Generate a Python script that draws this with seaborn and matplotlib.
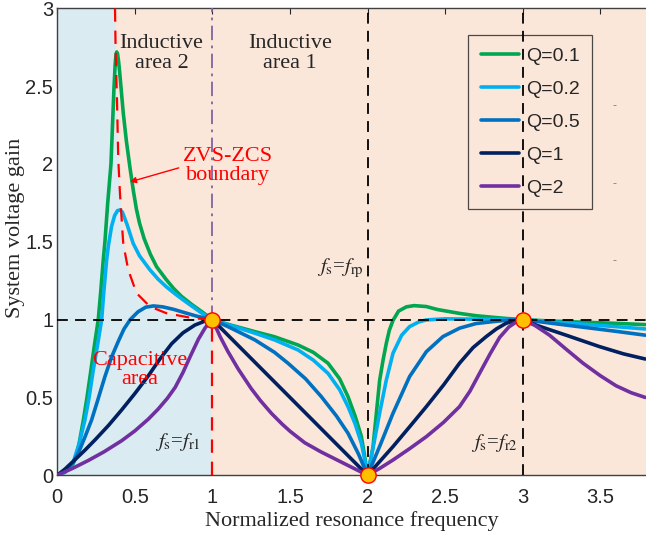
import numpy as np
import pandas as pd
import matplotlib
matplotlib.use("Agg")
import matplotlib.pyplot as plt
import seaborn as sns

# ---------------- data ----------------
q_labels = ["Q=0.1", "Q=0.2", "Q=0.5", "Q=1", "Q=2"]
q_colors = ["#00A650", "#00B0F0", "#0070C0", "#002060", "#7030A0"]

q01_x = [0, 0.05, 0.1, 0.114, 0.14, 0.168, 0.19, 0.217, 0.24, 0.264, 0.28, 0.296, 0.307, 0.325, 0.346,
         0.356, 0.365, 0.373, 0.378, 0.383, 0.388, 0.395, 0.402, 0.41, 0.425, 0.445, 0.468, 0.49, 0.51,
         0.53, 0.56, 0.6, 0.64, 0.7, 0.75, 0.8, 0.87, 0.94, 1.0,
         1.1, 1.273, 1.4, 1.552, 1.65, 1.745, 1.82, 1.874, 1.92, 1.96, 1.98, 2.0,
         2.018, 2.035, 2.057, 2.078, 2.1, 2.121, 2.14, 2.164, 2.2, 2.25, 2.3, 2.379, 2.45, 2.593, 2.7,
         2.807, 2.9, 3.0, 3.2, 3.4, 3.6, 3.79]
q01_y = [0, 0.02, 0.07, 0.1, 0.2, 0.355, 0.49, 0.677, 0.84, 1.0, 1.18, 1.38, 1.5, 1.75, 2.0,
         2.25, 2.48, 2.64, 2.70, 2.72, 2.71, 2.66, 2.59, 2.5, 2.33, 2.15, 1.98, 1.83, 1.71,
         1.62, 1.52, 1.42, 1.34, 1.26, 1.2, 1.15, 1.095, 1.045, 1.0,
         0.97, 0.923, 0.89, 0.837, 0.79, 0.72, 0.62, 0.505, 0.38, 0.25, 0.13, 0.0,
         0.09, 0.18, 0.4, 0.61, 0.74, 0.848, 0.93, 0.995, 1.055, 1.082, 1.09, 1.084, 1.065, 1.04, 1.025,
         1.015, 1.007, 1.0, 0.99, 0.983, 0.976, 0.968]

q02_x = [0, 0.05, 0.1, 0.14, 0.178, 0.205, 0.232, 0.26, 0.286, 0.30, 0.318, 0.33, 0.35, 0.37, 0.388,
         0.405, 0.42, 0.45, 0.489, 0.53, 0.597, 0.65, 0.704, 0.76, 0.811, 0.87, 0.919, 1.0,
         1.1, 1.273, 1.4, 1.552, 1.65, 1.745, 1.82, 1.874, 1.92, 1.96, 1.98, 2.0,
         2.02, 2.04, 2.078, 2.121, 2.164, 2.22, 2.271, 2.33, 2.379, 2.5, 2.7, 3.0,
         3.2, 3.4, 3.6, 3.79]
q02_y = [0, 0.02, 0.075, 0.2, 0.355, 0.5, 0.677, 0.84, 1.0, 1.18, 1.384, 1.48, 1.6, 1.67, 1.70,
         1.705, 1.69, 1.61, 1.49, 1.41, 1.32, 1.26, 1.21, 1.165, 1.127, 1.085, 1.05, 1.0,
         0.968, 0.913, 0.87, 0.805, 0.74, 0.655, 0.55, 0.441, 0.33, 0.206, 0.11, 0.0,
         0.1, 0.2, 0.4, 0.612, 0.784, 0.9, 0.955, 0.985, 0.998, 1.005, 1.003, 1.0,
         0.985, 0.97, 0.955, 0.94]

q05_x = [0, 0.05, 0.1, 0.135, 0.18, 0.221, 0.26, 0.307, 0.35, 0.393, 0.43, 0.47, 0.52, 0.57, 0.62,
         0.68, 0.75, 0.82, 0.9, 1.0,
         1.1, 1.273, 1.4, 1.487, 1.6, 1.702, 1.8, 1.874, 1.94, 2.0,
         2.08, 2.164, 2.271, 2.379, 2.486, 2.593, 2.7, 2.807, 2.9, 3.0,
         3.2, 3.4, 3.6, 3.79]
q05_y = [0, 0.03, 0.08, 0.141, 0.25, 0.355, 0.48, 0.634, 0.76, 0.86, 0.94, 1.0, 1.05, 1.08, 1.088,
         1.082, 1.066, 1.045, 1.022, 1.0,
         0.955, 0.87, 0.79, 0.72, 0.62, 0.505, 0.38, 0.27, 0.14, 0.0,
         0.19, 0.398, 0.634, 0.794, 0.891, 0.945, 0.975, 0.987, 0.996, 1.0,
         0.975, 0.95, 0.925, 0.9]

q1_x = [0, 0.05, 0.114, 0.18, 0.243, 0.33, 0.415, 0.5, 0.586, 0.66, 0.737, 0.81, 0.887, 0.95, 1.0,
        1.25, 1.5, 1.75, 2.0,
        2.08, 2.164, 2.27, 2.379, 2.49, 2.593, 2.68, 2.765, 2.83, 2.894, 2.95, 3.0,
        3.1, 3.28, 3.494, 3.65, 3.79]
q1_y = [0, 0.04, 0.1, 0.163, 0.227, 0.32, 0.42, 0.525, 0.638, 0.745, 0.845, 0.915, 0.965, 0.99, 1.0,
        0.75, 0.5, 0.25, 0.0,
        0.09, 0.184, 0.31, 0.441, 0.58, 0.72, 0.82, 0.891, 0.94, 0.977, 0.993, 1.0,
        0.96, 0.9, 0.827, 0.78, 0.747]

q2_x = [0, 0.1, 0.2, 0.3, 0.415, 0.5, 0.586, 0.65, 0.71, 0.76, 0.81, 0.86, 0.91, 0.955, 1.0,
        1.05, 1.1, 1.166, 1.25, 1.31, 1.381, 1.45, 1.5, 1.595, 1.7, 1.81, 1.9, 2.0,
        2.08, 2.164, 2.27, 2.379, 2.49, 2.593, 2.66, 2.722, 2.79, 2.851, 2.91, 2.958, 3.0,
        3.08, 3.173, 3.28, 3.389, 3.5, 3.602, 3.7, 3.79]
q2_y = [0, 0.045, 0.095, 0.15, 0.222, 0.285, 0.36, 0.425, 0.495, 0.565, 0.66, 0.77, 0.875, 0.95, 1.0,
        0.89, 0.795, 0.683, 0.557, 0.479, 0.397, 0.328, 0.283, 0.209, 0.15, 0.095, 0.05, 0.0,
        0.045, 0.098, 0.17, 0.248, 0.34, 0.441, 0.54, 0.655, 0.78, 0.885, 0.952, 0.985, 1.0,
        0.962, 0.9, 0.81, 0.72, 0.64, 0.575, 0.53, 0.50]

# ZVS-ZCS boundary
bnd_x = [0.372, 0.376, 0.385, 0.393, 0.404, 0.425, 0.457, 0.511, 0.597, 0.704, 0.876, 1.0]
bnd_y = [3.0, 2.73, 2.4, 2.03, 1.81, 1.49, 1.32, 1.17, 1.084, 1.041, 1.009, 1.0]

# special points
mark_x = [1, 2, 3]
mark_y = [1, 0, 1]

xticks = [0, 0.5, 1, 1.5, 2, 2.5, 3, 3.5]
xtick_labels = ["0", "0.5", "1", "1.5", "2", "2.5", "3", "3.5"]
yticks = [0, 0.5, 1, 1.5, 2, 2.5, 3]
ytick_labels = ["0", "0.5", "1", "1.5", "2", "2.5", "3"]

# ---------------- figure ----------------
sns.set_theme(style="white")
plt.rcParams["font.family"] = ["Liberation Sans", "DejaVu Sans"]
plt.rcParams["mathtext.fontset"] = "stix"

fig = plt.figure(figsize=(6.46, 5.37), dpi=100)
ax = fig.add_axes([0.0887, 0.115, 0.9113, 0.8694])

peach = "#FBE7DA"
blue_bg = "#DAEBF2"
ax.set_facecolor(peach)
# capacitive (blue) region: left of the boundary above 1, left of x=1 below 1
ax.fill_betweenx(bnd_y, 0, bnd_x, color=blue_bg, lw=0, zorder=0)
ax.fill_betweenx([0, 1], 0, 1, color=blue_bg, lw=0, zorder=0)

rows = []
for lab, xs, ys in zip(q_labels, [q01_x, q02_x, q05_x, q1_x, q2_x],
                       [q01_y, q02_y, q05_y, q1_y, q2_y]):
    for i, (a, b) in enumerate(zip(xs, ys)):
        rows.append({"Q": lab, "x": a, "y": b, "order": i})
df = pd.DataFrame(rows)

for lab, col in zip(q_labels, q_colors):
    sub = df[df["Q"] == lab]
    sns.lineplot(data=sub, x="x", y="y", color=col, lw=2.6, ax=ax, label=lab,
                 sort=False, estimator=None, zorder=3)

# reference lines
ax.axhline(1, color="black", ls=(0, (6, 4)), lw=1.3, zorder=4)
ax.axvline(2, color="black", ls=(0, (6, 4)), lw=1.3, zorder=4)
ax.axvline(3, color="black", ls=(0, (6, 4)), lw=1.3, zorder=4)
ax.plot([1, 1], [1, 3], color="#8064A2", ls=(0, (8, 3, 1.5, 3)), lw=1.3, zorder=4)
ax.plot([1, 1], [0, 1], color="#FF0000", ls=(0, (6, 4)), lw=1.6, zorder=4)
ax.plot(bnd_x, bnd_y, color="#FF0000", ls=(0, (6, 4)), lw=1.6, zorder=4)

ax.plot(mark_x, mark_y, ls="none", marker="o", ms=11, mfc="#FFC000", mec="#FF0000",
        mew=1.0, zorder=6, clip_on=False)

# texts
serif = ["Liberation Serif", "DejaVu Serif"]
fs_txt = 16
ax.text(0.672, 2.71, "Inductive\narea 2", ha="center", va="center", fontsize=fs_txt,
        family=serif, linespacing=1.05, zorder=5)
ax.text(1.498, 2.71, "Inductive\narea 1", ha="center", va="center", fontsize=fs_txt,
        family=serif, linespacing=1.05, zorder=5)
ax.text(1.10, 1.99, "ZVS-ZCS\nboundary", ha="center", va="center", fontsize=fs_txt,
        family=serif, color="#FF0000", linespacing=1.0, zorder=5)
ax.annotate("", xy=(0.451, 1.88), xytext=(0.80, 1.98),
            arrowprops=dict(arrowstyle="-|>", color="#FF0000", lw=1.0,
                            mutation_scale=9), zorder=5)
ax.text(0.533, 0.677, "Capacitive\narea", ha="center", va="center", fontsize=fs_txt,
        family=serif, color="#FF0000", linespacing=1.0, zorder=5)
ax.text(0.775, 0.216, r"$f_{\mathrm{s}}$=$f_{\mathrm{r1}}$", ha="center", va="center",
        fontsize=15, family=serif, zorder=5)
ax.text(1.825, 1.33, r"$f_{\mathrm{s}}$=$f_{\mathrm{rp}}$", ha="center", va="center",
        fontsize=15, family=serif, zorder=5)
ax.text(2.818, 0.21, r"$f_{\mathrm{s}}$=$f_{\mathrm{r2}}$", ha="center", va="center",
        fontsize=15, family=serif, zorder=5)
for yy in [2.373, 1.872, 1.377]:
    ax.text(3.594, yy, "-", ha="center", va="center", fontsize=9, color="#808080", zorder=5)

# axes
ax.set_xlim(0, 3.795)
ax.set_ylim(0, 3)
ax.set_xticks(xticks)
ax.set_xticklabels(xtick_labels)
ax.set_yticks(yticks)
ax.set_yticklabels(ytick_labels)
ax.tick_params(direction="in", length=4, width=0.8, top=True, right=False,
               labelsize=14.5, colors="#262626")
ax.tick_params(axis="x", pad=9)
ax.tick_params(axis="y", pad=3)
for s in ["left", "bottom", "top"]:
    ax.spines[s].set_visible(True)
    ax.spines[s].set_color("#404040")
    ax.spines[s].set_linewidth(1.0)
ax.spines["right"].set_visible(False)
ax.set_xlabel("Normalized resonance frequency", family=serif, fontsize=16, labelpad=3)
ax.set_ylabel("System voltage gain", family=serif, fontsize=16)
ax.yaxis.set_label_coords(-0.055, 0.529)

leg = ax.legend(loc="upper right", bbox_to_anchor=(0.908, 0.943), fontsize=14,
                frameon=True, fancybox=False, edgecolor="#202020", facecolor="none",
                handlelength=1.96, handletextpad=0.36, labelspacing=0.79,
                borderpad=0.63, borderaxespad=0)
leg.get_frame().set_linewidth(0.9)
leg.set_zorder(3.5)
for h in leg.get_lines():
    h.set_linewidth(2.6)

fig.savefig("out.png", dpi=100)
